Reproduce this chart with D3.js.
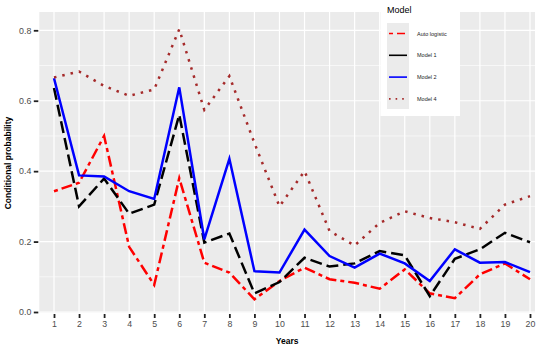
<!DOCTYPE html>
<html>
<head>
<meta charset="utf-8">
<script src="https://cdn.jsdelivr.net/npm/d3@7"></script>
<style>
  body { margin: 0; background: #fff; }
  svg { font-family: "Liberation Sans", Arial, sans-serif; }
</style>
</head>
<body>
<svg width="550" height="346"></svg>
<script>
const years = d3.range(1, 21);
const autoLogistic = [0.343, 0.367, 0.50, 0.185, 0.077, 0.38, 0.14, 0.112, 0.036, 0.088,
                      0.126, 0.093, 0.083, 0.066, 0.121, 0.053, 0.039, 0.107, 0.138, 0.093];
const model1 = [0.636, 0.30, 0.379, 0.279, 0.305, 0.56, 0.197, 0.223, 0.053, 0.085,
                0.154, 0.129, 0.138, 0.173, 0.161, 0.045, 0.151, 0.178, 0.225, 0.198];
const model2 = [0.664, 0.388, 0.385, 0.343, 0.321, 0.638, 0.206, 0.435, 0.116, 0.112,
                0.234, 0.159, 0.126, 0.166, 0.138, 0.088, 0.178, 0.140, 0.142, 0.113];
const model4 = [0.666, 0.683, 0.642, 0.614, 0.632, 0.803, 0.574, 0.67, 0.48, 0.30,
                0.40, 0.23, 0.189, 0.253, 0.286, 0.267, 0.255, 0.236, 0.305, 0.329];
const yTicks = [0, 0.2, 0.4, 0.6, 0.8];
const yMinor = [0.1, 0.3, 0.5, 0.7];

const series = [
  { name: "Auto logistic", values: autoLogistic, color: "#ff0000", dash: "4,4,11,4" },
  { name: "Model 1", values: model1, color: "#000000", dash: "12,5" },
  { name: "Model 2", values: model2, color: "#0000ff", dash: null },
  { name: "Model 4", values: model4, color: "#a52a2a", dash: "2.5,6" }
];

const svg = d3.select("svg");
const panel = { left: 39.3, right: 535, top: 12, bottom: 312.5 };

var x = d3.scalePoint()
    .domain(years)
    .range([54, 530]);

var y = d3.scaleLinear()
    .domain([0, 0.8])
    .range([312, 30.3]);

// panel background
svg.append("rect")
    .attr("x", panel.left).attr("y", panel.top)
    .attr("width", panel.right - panel.left)
    .attr("height", panel.bottom - panel.top)
    .attr("fill", "#ebebeb");

// minor grid
svg.append("g").selectAll("line")
    .data(yMinor).enter().append("line")
    .attr("x1", panel.left).attr("x2", panel.right)
    .attr("y1", d => y(d)).attr("y2", d => y(d))
    .attr("stroke", "#fff").attr("stroke-width", 0.6);

// major grid
svg.append("g").selectAll("line")
    .data(yTicks).enter().append("line")
    .attr("x1", panel.left).attr("x2", panel.right)
    .attr("y1", d => y(d)).attr("y2", d => y(d))
    .attr("stroke", "#fff").attr("stroke-width", 1.2);
svg.append("g").selectAll("line")
    .data(years).enter().append("line")
    .attr("x1", d => x(d)).attr("x2", d => x(d))
    .attr("y1", panel.top).attr("y2", panel.bottom)
    .attr("stroke", "#fff").attr("stroke-width", 1.2);

// axes
var yAxis = d3.axisLeft(y)
    .tickValues(yTicks)
    .tickFormat(d3.format(".1f"))
    .tickSize(4.5)
    .tickPadding(2.5);
var xAxis = d3.axisBottom(x)
    .tickSize(4)
    .tickPadding(3);

var gy = svg.append("g")
    .attr("transform", "translate(" + (panel.left - 1) + ",0)")
    .call(yAxis);
var gx = svg.append("g")
    .attr("transform", "translate(0," + (panel.bottom + 1.5) + ")")
    .call(xAxis);
[gx, gy].forEach(g => {
  g.select(".domain").remove();
  g.selectAll(".tick line").attr("stroke", "#222").attr("stroke-width", 1.8);
  g.selectAll(".tick text").attr("fill", "#4d4d4d").style("font-size", "8.8px");
});

// lines
var line = d3.line()
    .x((d, i) => x(years[i]))
    .y(d => y(d));

svg.append("g").selectAll("path")
    .data(series).enter().append("path")
    .attr("d", d => line(d.values))
    .attr("fill", "none")
    .attr("stroke", d => d.color)
    .attr("stroke-width", 2.5)
    .attr("stroke-dasharray", d => d.dash);

// axis titles
svg.append("text")
    .attr("x", (panel.left + panel.right) / 2)
    .attr("y", 344)
    .attr("text-anchor", "middle")
    .style("font-size", "8.5px")
    .style("font-weight", "bold")
    .text("Years");
svg.append("text")
    .attr("transform", "translate(10.5,163) rotate(-90)")
    .attr("text-anchor", "middle")
    .style("font-size", "8.5px")
    .style("font-weight", "bold")
    .text("Conditional probability");

// legend
var legend = svg.append("g");
legend.append("rect")
    .attr("x", 380.5).attr("y", 0)
    .attr("width", 79.5).attr("height", 116)
    .attr("fill", "#fff");
legend.append("text")
    .attr("x", 387).attr("y", 13)
    .style("font-size", "9px")
    .text("Model");
legend.append("rect")
    .attr("x", 387).attr("y", 23)
    .attr("width", 22).attr("height", 86)
    .attr("fill", "#ebebeb");
var keys = legend.selectAll("g.key")
    .data(series).enter().append("g")
    .attr("transform", (d, i) => "translate(0," + (33.5 + i * 21.8) + ")");
keys.append("line")
    .attr("x1", 389).attr("x2", 407)
    .attr("stroke", d => d.color)
    .attr("stroke-width", 1.6)
    .attr("stroke-dasharray", (d, i) => i === 0 ? "4,4,8,4" : i === 3 ? "1.6,5" : null);
keys.append("text")
    .attr("x", 417).attr("y", 2)
    .style("font-size", "5.5px")
    .attr("fill", "#222")
    .text(d => d.name);
</script>
</body>
</html>
